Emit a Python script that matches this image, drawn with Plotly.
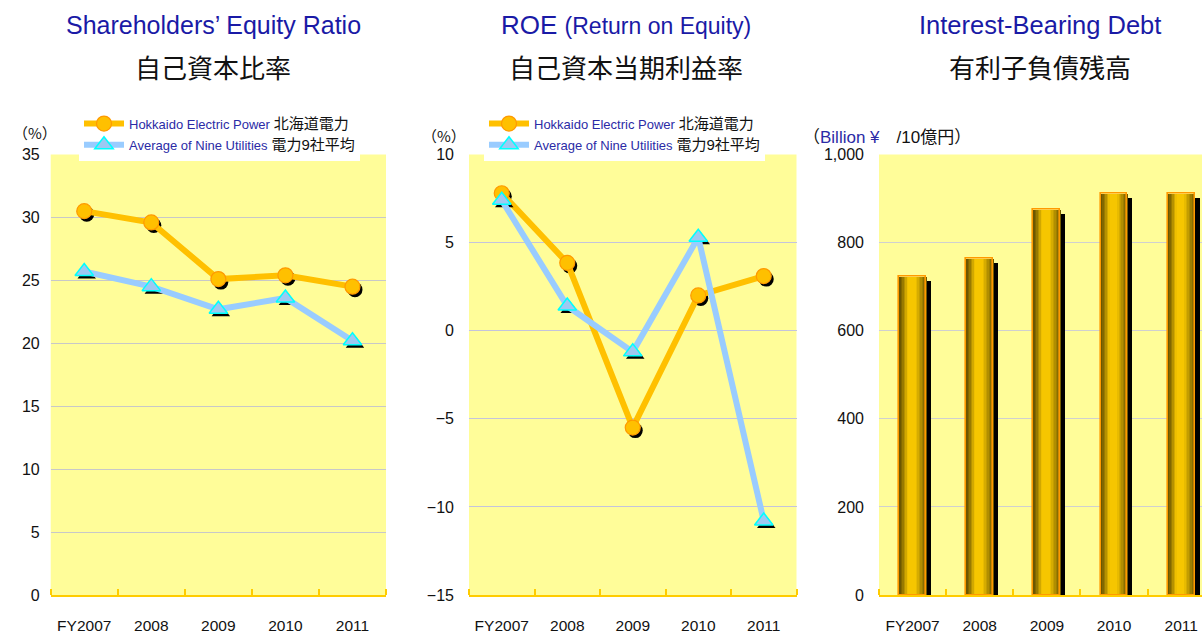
import plotly.graph_objects as go

# ---------------- data ----------------
categories = ["FY2007", "2008", "2009", "2010", "2011"]
equity_hokkaido = [30.5, 29.6, 25.1, 25.4, 24.5]
equity_average = [25.7, 24.5, 22.7, 23.6, 20.2]
roe_hokkaido = [7.8, 3.85, -5.5, 2.0, 3.1]
roe_average = [7.4, 1.4, -1.2, 5.3, -10.8]
debt = [722, 765, 876, 911, 911]

series_names = [
    ("Hokkaido Electric Power", "北海道電力"),
    ("Average of Nine Utilities", "電力9社平均"),
]

# ---------------- layout geometry (px) ----------------
W, H = 1202, 634
PLOT_TOP, PLOT_BOTTOM = 154.5, 595
panels = [  # left, right px
    (50.7, 386),
    (469, 796.5),
    (879, 1202),
]
y_ranges = [(0, 35), (-15, 10), (0, 1000)]
x_ranges = [(-0.5, 4.5), (-0.5, 4.5), (-0.5, 4.31)]

LATIN = "Liberation Sans, Arial, Noto Sans CJK JP, sans-serif"
TITLE_LATIN = "Liberation Sans, Arial, Noto Sans CJK JP, sans-serif"
JP = "Noto Sans CJK JP, sans-serif"
BLUE_TXT = "#2b2ba6"
GOLD = "#FFC000"
LIGHTBLUE = "#99CCFF"
BG = "#FFFD99"
AXIS_GOLD = "#FFCC00"

xs = list(range(len(categories)))


def px_per_unit_x(i):
    l, r = panels[i]
    a, b = x_ranges[i]
    return (r - l) / (b - a)


def px_per_unit_y(i):
    a, b = y_ranges[i]
    return (PLOT_BOTTOM - PLOT_TOP) / (b - a)


fig = go.Figure()

SH_DX, SH_DY = 2.5, 3.0  # shadow offset in px


def legend_name(en, jp):
    return (f"<span style='color:{BLUE_TXT};font-size:13px'>{en}</span> "
            f"<span style='font-size:15px'>{jp}</span>")


def add_line_panel(i, hk, av, legend_id, axis_suffix):
    dx = SH_DX / px_per_unit_x(i)
    dy = SH_DY / px_per_unit_y(i)
    xa, ya = "x" + axis_suffix, "y" + axis_suffix
    fig.add_trace(go.Scatter(
        x=[x + dx for x in xs], y=[v - dy for v in hk], mode="markers",
        marker=dict(symbol="circle", size=15, color="black"),
        showlegend=False, hoverinfo="skip", xaxis=xa, yaxis=ya))
    fig.add_trace(go.Scatter(
        x=xs, y=hk, mode="lines+markers",
        name=legend_name(*series_names[0]),
        line=dict(color=GOLD, width=6),
        marker=dict(symbol="circle", size=15, color=GOLD,
                    line=dict(color="#FF9900", width=1.2)),
        legend=legend_id, xaxis=xa, yaxis=ya))
    fig.add_trace(go.Scatter(
        x=[x + dx for x in xs], y=[v - dy for v in av], mode="markers",
        marker=dict(symbol="triangle-up", size=16, color="black"),
        showlegend=False, hoverinfo="skip", xaxis=xa, yaxis=ya))
    fig.add_trace(go.Scatter(
        x=xs, y=av, mode="lines+markers",
        name=legend_name(*series_names[1]),
        line=dict(color=LIGHTBLUE, width=6),
        marker=dict(symbol="triangle-up", size=16, color="#9EC8F2",
                    line=dict(color="#00FFFF", width=1.5)),
        legend=legend_id, xaxis=xa, yaxis=ya))


add_line_panel(0, equity_hokkaido, equity_average, "legend", "")
add_line_panel(1, roe_hokkaido, roe_average, "legend2", "2")

# ---------------- bars (panel 3) ----------------
BW = 0.40
ppx = px_per_unit_x(2)
ppy = px_per_unit_y(2)
fig.add_trace(go.Bar(
    x=xs, y=debt, base=[-4.0 / ppy] * len(debt), width=BW,
    offset=-BW / 2 + 5.0 / ppx, marker=dict(color="black", line=dict(width=0)),
    showlegend=False, hoverinfo="skip", xaxis="x3", yaxis="y3"))


def shade(t):
    pts = [(0.0, 0.4), (0.12, 0.58), (0.32, 1.0), (0.6, 1.0), (0.85, 0.66), (1.0, 0.42)]
    b = 1.0
    for (t0, b0), (t1, b1) in zip(pts[:-1], pts[1:]):
        if t0 <= t <= t1:
            b = b0 + (b1 - b0) * (t - t0) / (t1 - t0)
            break
    base = (246, 198, 0)
    return "rgb({},{},{})".format(*[int(c * b) for c in base])


N = 18
sw = BW / N
for k in range(N):
    t = (k + 0.5) / N
    fig.add_trace(go.Bar(
        x=xs, y=debt, width=sw * 1.35, offset=-BW / 2 + k * sw,
        marker=dict(color=shade(t), line=dict(width=0)),
        showlegend=False, hoverinfo="skip", xaxis="x3", yaxis="y3"))
fig.add_trace(go.Bar(
    x=xs, y=debt, width=BW, offset=-BW / 2,
    marker=dict(color="rgba(0,0,0,0)", line=dict(color="#FF9900", width=1.6)),
    showlegend=False, hoverinfo="skip", xaxis="x3", yaxis="y3"))

# ---------------- axes ----------------
yd = [(H - PLOT_BOTTOM) / H, (H - PLOT_TOP) / H]
grid_colors = ["#C8C8C8", "#C4C4DC", "#D0D0D0"]
layout_axes = {}
for i in range(3):
    suf = "" if i == 0 else str(i + 1)
    l, r = panels[i]
    layout_axes["xaxis" + suf] = dict(
        domain=[l / W, min(r / W, 1.0)], range=list(x_ranges[i]),
        anchor="y" + suf, tickmode="array", tickvals=xs, ticktext=categories,
        ticks="", showgrid=False, zeroline=False, automargin=False,
        showline=True, linecolor=AXIS_GOLD, linewidth=2,
        tickfont=dict(family=LATIN, size=15.5, color="#111111"),
        ticklabelstandoff=15,
        minor=dict(tickmode="array", tickvals=[x - 0.5 for x in xs] + [xs[-1] + 0.5],
                   ticks="inside", ticklen=6, tickwidth=2, tickcolor=AXIS_GOLD,
                   showgrid=False),
        fixedrange=True,
    )
    ya = dict(
        domain=yd, range=list(y_ranges[i]), anchor="x" + suf,
        showgrid=True, gridcolor=grid_colors[i], gridwidth=1.2,
        zeroline=False, showline=False, ticks="", automargin=False,
        dtick=5 if i < 2 else 200,
        tickfont=dict(family=LATIN, size=16, color="#111111"),
        ticklabelstandoff=10 if i == 0 else 14,
        fixedrange=True,
    )
    if i == 1:
        ya["tickvals"] = [-15, -10, -5, 0, 5, 10]
        ya["ticktext"] = ["−15", "−10", "−5", "0", "5", "10"]
    if i == 2:
        ya["tickformat"] = ",d"
    layout_axes["yaxis" + suf] = ya

fig.update_layout(
    width=W, height=H, autosize=False,
    margin=dict(l=0, r=0, t=0, b=0, pad=0),
    paper_bgcolor="white", plot_bgcolor=BG,
    barmode="overlay", bargap=0,
    **layout_axes,
)

legend_common = dict(
    xanchor="left", yanchor="top", bgcolor="white", borderwidth=0,
    font=dict(family=LATIN, size=14, color="#111111"),
    itemwidth=40, tracegroupgap=0, orientation="v",
)
fig.update_layout(
    legend=dict(x=79 / W, y=(H - 108) / H, **legend_common),
    legend2=dict(x=484 / W, y=(H - 108) / H, **legend_common),
)

# ---------------- titles & unit labels ----------------
ann = []


def add_text(x, y, text, size, color, family, xanchor="center"):
    ann.append(dict(x=x / W, y=(H - y) / H, xref="paper", yref="paper",
                    text=text, showarrow=False, xanchor=xanchor, yanchor="middle",
                    font=dict(size=size, color=color, family=family)))


add_text(213, 25, "Shareholders’ Equity Ratio", 25, "#1a1aa6", TITLE_LATIN)
add_text(213, 66, "自己資本比率", 26, "#111111", JP)
add_text(626, 25, "ROE <span style='font-size:23px'>(Return on Equity)</span>", 26,
         "#1a1aa6", TITLE_LATIN)
add_text(626, 66, "自己資本当期利益率", 26, "#111111", JP)
add_text(1040, 25, "Interest-Bearing Debt", 25.5, "#1a1aa6", TITLE_LATIN)
add_text(1040, 66, "有利子負債残高", 26, "#111111", JP)

add_text(11, 132, "（%）", 15, "#111111", JP, xanchor="left")
add_text(420, 135, "（%）", 15, "#111111", JP, xanchor="left")
add_text(801, 137, f"（<span style='color:{BLUE_TXT}'>Billion ¥</span>　/10億円）", 17,
         "#111111", "Liberation Sans, Noto Sans CJK JP, sans-serif", xanchor="left")

fig.update_layout(annotations=ann)

fig.write_html(
    "out.html",
    config={"displayModeBar": False, "responsive": False},
    post_script="document.body.style.margin='0';document.body.style.overflow='hidden';",
)
